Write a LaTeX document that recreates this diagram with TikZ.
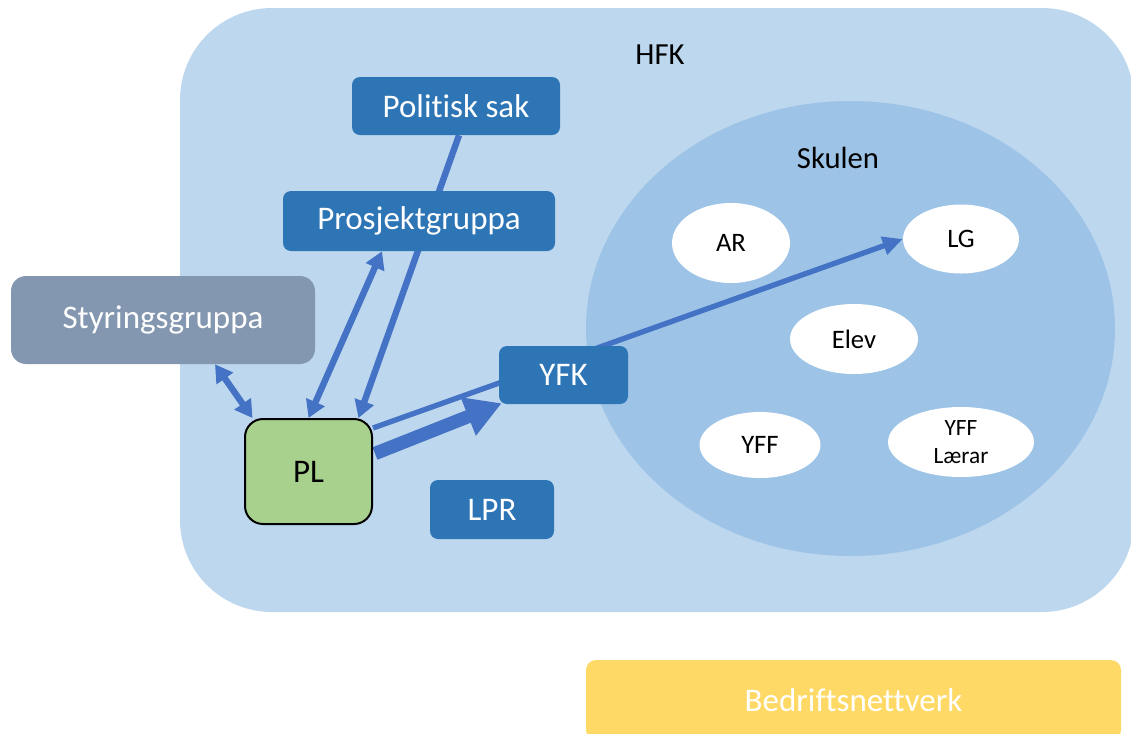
\documentclass[tikz,border=0pt]{standalone}
\usepackage{fontspec}
\setmainfont{Carlito}[Ligatures=NoCommon]
\usetikzlibrary{shapes.geometric,arrows.meta,calc}
\pgfdeclarelayer{bg}\pgfdeclarelayer{mid}\pgfsetlayers{bg,mid,main}
\definecolor{hfkfill}{HTML}{BDD7EE}
\definecolor{skfill}{HTML}{9DC3E6}
\definecolor{dkblue}{HTML}{2E75B6}
\definecolor{styrfill}{HTML}{8497B0}
\definecolor{plfill}{HTML}{A9D18E}
\definecolor{bedfill}{HTML}{FFD966}
\definecolor{arrblue}{HTML}{4472C4}
\newcommand\pxu[1]{#1*0.75pt}
\begin{document}
\begin{tikzpicture}[x=0.75pt,y=-0.75pt,
  bigfont/.style={font=\fontsize{24.75}{30}\selectfont},
  lblfont/.style={font=\fontsize{23}{28}\selectfont},
  darkbox/.style={fill=dkblue, text=white, rounded corners=\pxu{8}, inner sep=0pt, bigfont},
  oval/.style={ellipse, fill=white, inner sep=0pt, font=\fontsize{20}{23}\selectfont},
  smtip/.tip={Triangle[length=13pt,width=14.5pt]},
  conn/.style={draw=arrblue, line width=4.8pt},
  bigarrow/.style={draw=arrblue, line width=10pt, -{Triangle[length=27pt,width=29pt]}}
]
\useasboundingbox (0,0) rectangle (1131,733);
\clip (0,0) rectangle (1131,733);

% containers
\begin{pgfonlayer}{bg}
\node[fill=hfkfill, rounded corners=\pxu{92}, minimum width=\pxu{954}, minimum height=\pxu{604}, inner sep=0pt] (hfk) at (657,310) {};
\node[ellipse, fill=skfill, minimum width=\pxu{529}, minimum height=\pxu{455}, inner sep=0pt] (skulen) at (850.5,328.5) {};
\end{pgfonlayer}
\node[lblfont] (hfklabel) at (660,55) {HFK};
\node[lblfont] (skulenlabel) at (838,158) {Skulen};

% boxes
\node[darkbox, minimum width=\pxu{208}, minimum height=\pxu{58}] (pol) at (456,106) {Politisk sak};
\node[darkbox, minimum width=\pxu{272}, minimum height=\pxu{60}] (prosj) at (419,221) {Prosjektgruppa};
\node[fill=styrfill, text=white, rounded corners=\pxu{15}, inner sep=0pt, bigfont, minimum width=\pxu{304}, minimum height=\pxu{88}] (styr) at (163,320) {Styringsgruppa};
\node[draw=black, line width=1.5pt, fill=plfill, rounded corners=\pxu{18}, inner sep=0pt, bigfont, minimum width=\pxu{127}, minimum height=\pxu{105}] (pl) at (308.5,471.5) {PL};
\node[darkbox, minimum width=\pxu{129}, minimum height=\pxu{58}] (yfk) at (563.5,375) {YFK};
\node[darkbox, minimum width=\pxu{124}, minimum height=\pxu{59}] (lpr) at (492,509.5) {LPR};
\node[fill=bedfill, text=white, rounded corners=\pxu{10}, inner sep=0pt, bigfont, minimum width=\pxu{535}, minimum height=\pxu{80}] (bed) at (853.5,700) {Bedriftsnettverk};

% school members
\node[oval, minimum width=\pxu{118}, minimum height=\pxu{80}] (ar) at (731,243) {AR};
\node[oval, minimum width=\pxu{116}, minimum height=\pxu{69}] (lg) at (961,239) {LG};
\node[oval, minimum width=\pxu{128}, minimum height=\pxu{70}] (elev) at (854,339) {Elev};
\node[oval, minimum width=\pxu{121}, minimum height=\pxu{66}] (yff) at (760,445) {YFF};
\node[oval, minimum width=\pxu{146}, minimum height=\pxu{70}, align=center, font=\fontsize{17.5}{21}\selectfont] (yffl) at (961,442) {YFF\\Lærar};

% connectors (behind boxes)
\begin{pgfonlayer}{mid}
\draw[conn, smtip-smtip] ($(styr.south)+(52,0)$) -- ($(pl.north)+(-56,0)$);
\draw[conn, smtip-smtip] ($(prosj.south)+(-37,0)$) -- (pl.north);
\draw[conn, -smtip] ($(pol.south)+(3,0)$) -- ($(pl.north)+(50,0)$);
\draw[conn, line width=4pt, -{Triangle[length=15pt,width=13.5pt]}] ($(pl.east)+(0,-43.5)$) -- (lg.west);
\draw[bigarrow] ($(pl.east)+(2,-18)$) -- ($(yfk.south west)+(3,-1)$);
\end{pgfonlayer}
\end{tikzpicture}
\end{document}
